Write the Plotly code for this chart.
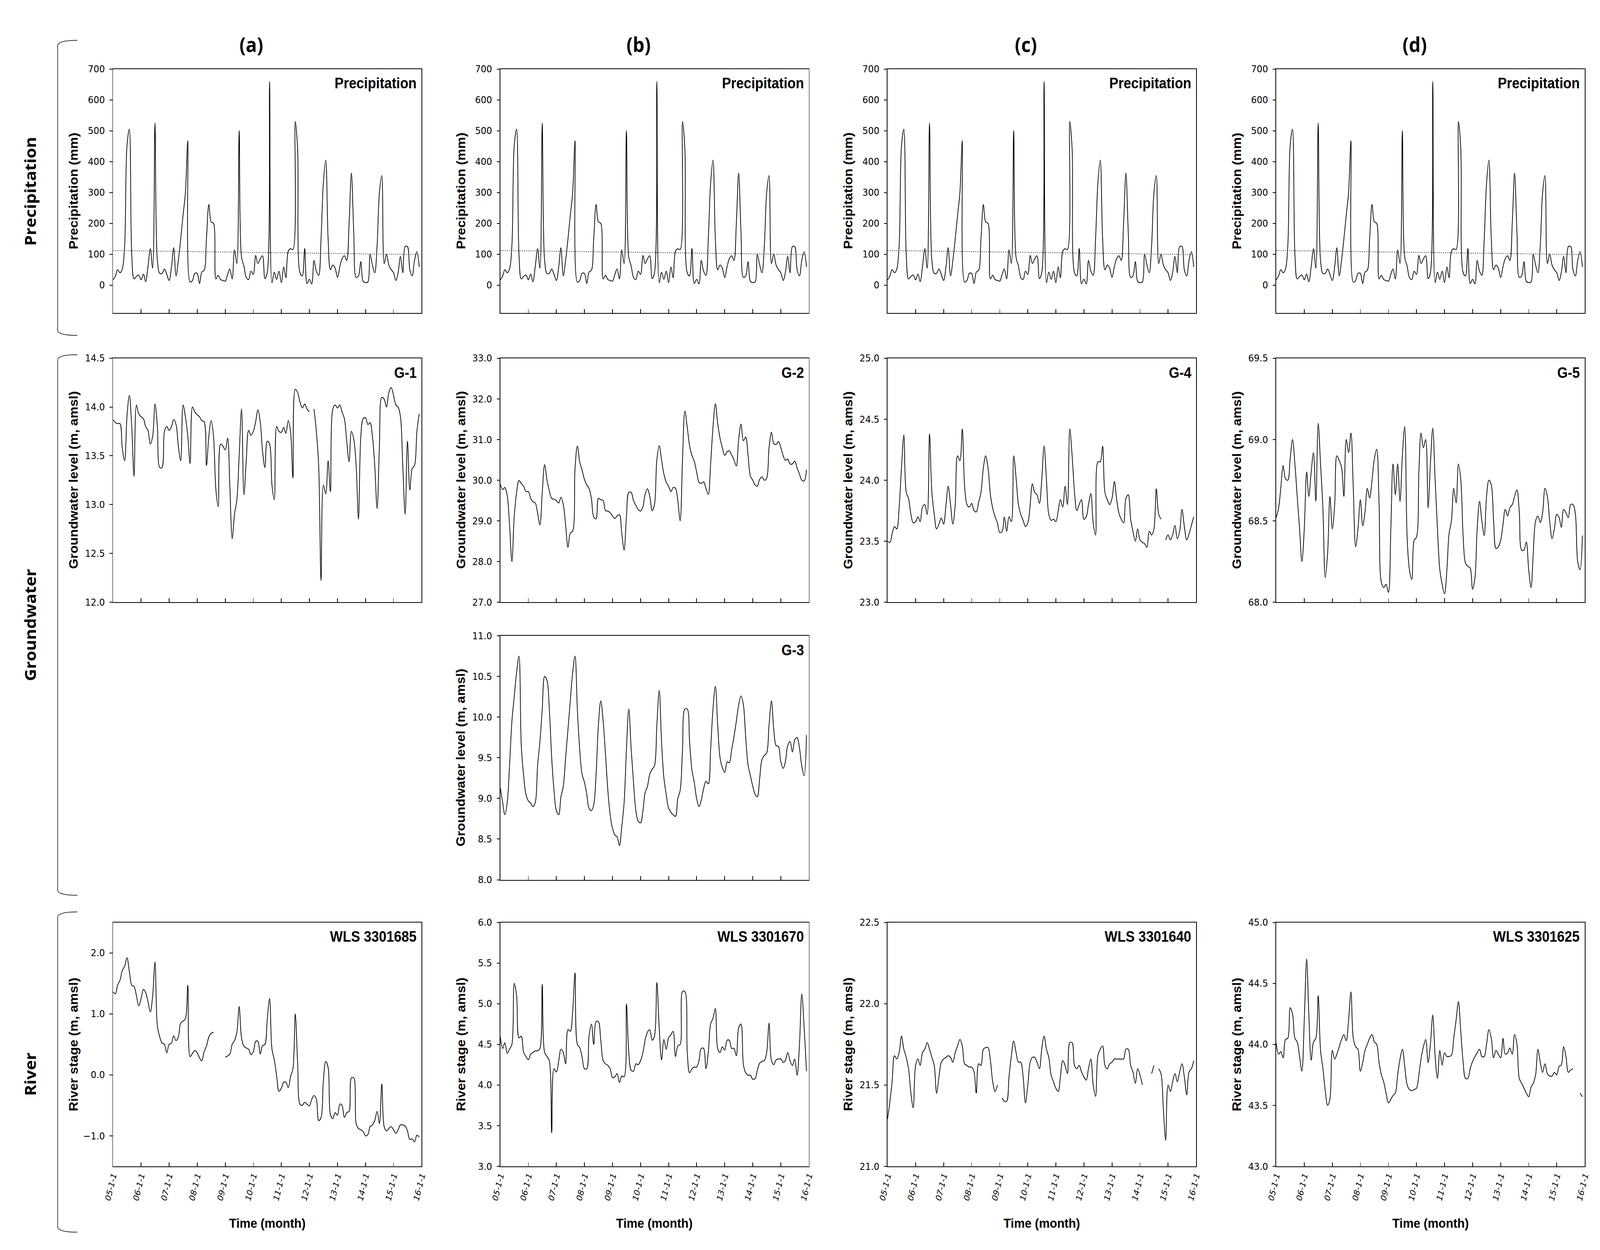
import plotly.graph_objects as go
import pandas as pd

W, H = 4490, 3199

# ---------------- data ----------------
months = pd.date_range("2005-01-01", periods=132, freq="MS")
year_ticks = pd.date_range("2005-01-01", "2016-01-01", freq="YS")
year_labels = ["05-1-1", "06-1-1", "07-1-1", "08-1-1", "09-1-1", "10-1-1",
               "11-1-1", "12-1-1", "13-1-1", "14-1-1", "15-1-1", "16-1-1"]

column_titles = ["(a)", "(b)", "(c)", "(d)"]
row_titles = ["Precipitation", "Groundwater", "River"]

precip = [17, 30, 50, 40, 52, 130, 450, 505, 100, 20, 28, 33,
          17, 36, 11, 60, 118, 55, 525, 80, 38, 38, 52, 35,
          15, 60, 121, 30, 80, 150, 225, 300, 468, 10, 15, 38,
          38, 5, 42, 48, 150, 261, 205, 200, 20, 32, 18, 15,
          13, 35, 52, 20, 114, 70, 501, 90, 62, 25, 18, 45,
          35, 96, 70, 85, 95, 21, 40, 660, 8, 42, 19, 45,
          8, 59, 24, 110, 118, 115, 530, 440, 40, 30, 119, 5,
          19, 4, 80, 45, 32, 150, 330, 405, 150, 50, 65, 55,
          25, 60, 85, 95, 80, 200, 363, 170, 25, 30, 76, 12,
          8, 10, 100, 65, 40, 130, 300, 355, 70, 100, 65, 50,
          40, 15, 40, 93, 40, 125, 125, 50, 30, 80, 108, 59]
precip_trend = [112, 99]

g1 = [13.87, 13.84, 13.83, 13.83, 13.58, 13.45, 13.90, 14.12, 13.80, 13.29, 14.02, 13.93,
      13.90, 13.88, 13.80, 13.76, 13.62, 13.70, 14.03, 13.80, 13.38, 13.38, 13.75, 13.80,
      13.76, 13.80, 13.87, 13.82, 13.60, 13.45, 14.02, 13.90, 13.70, 13.42, 14.00, 13.95,
      13.92, 13.90, 13.86, 13.85, 13.40, 13.70, 13.86, 13.70, 13.15, 12.98, 13.62, 13.60,
      13.56, 13.68, 13.20, 12.65, 12.90, 13.05, 13.50, 13.98, 13.10, 13.45, 13.76, 13.71,
      13.75, 13.85, 13.97, 13.85, 13.55, 13.38, 13.65, 13.62, 13.20, 13.05, 13.80, 13.75,
      13.74, 13.79, 13.73, 13.86, 13.75, 13.27, 14.18, 14.15, 14.05, 13.99, 14.03, 13.98,
      13.95, None, 13.98, 13.75, 13.40, 12.22, 13.20, 13.11, 13.45, 13.13, 13.98, 14.02,
      13.99, 14.02, 13.95, 13.88, 13.65, 13.44, 13.75, 13.67, 13.40, 12.85, 13.70, 13.88,
      13.89, 13.82, 13.84, 13.70, 13.40, 12.96, 13.60, 14.10, 14.08, 14.00, 14.15, 14.20,
      14.12, 14.02, 14.00, 13.90, 13.40, 12.90, 13.65, 13.15, 13.37, 13.40, 13.75, 13.93]

g2 = [29.90, 29.77, 29.82, 29.62, 28.90, 28.00, 29.10, 29.70, 29.99, 29.92, 29.85, 29.72,
      29.72, 29.55, 29.47, 29.44, 29.20, 28.90, 29.70, 30.38, 30.00, 29.74, 29.55, 29.53,
      29.50, 29.44, 29.58, 29.40, 28.90, 28.35, 28.70, 28.75, 30.30, 30.84, 30.45, 30.25,
      30.02, 29.88, 29.80, 29.55, 29.10, 29.05, 29.55, 29.52, 29.50, 29.25, 29.24, 29.20,
      29.12, 29.06, 29.12, 29.15, 28.70, 28.28, 29.10, 29.70, 29.70, 29.50, 29.38, 29.28,
      29.24, 29.35, 29.65, 29.79, 29.60, 29.25, 29.40, 30.50, 30.85, 30.50, 30.15, 29.95,
      29.85, 29.72, 29.82, 29.80, 29.50, 29.00, 30.50, 31.70, 31.30, 30.85, 30.61, 30.47,
      30.20, 29.95, 29.92, 29.96, 29.80, 29.65, 30.40, 31.30, 31.88, 31.40, 31.03, 30.80,
      30.61, 30.70, 30.72, 30.62, 30.50, 30.35, 31.00, 31.38, 30.97, 31.06, 30.60, 30.10,
      30.00, 29.88, 29.85, 30.02, 30.08, 30.00, 30.05, 30.80, 31.18, 30.90, 30.88, 30.95,
      30.80, 30.60, 30.49, 30.52, 30.40, 30.40, 30.47, 30.30, 30.15, 30.00, 29.98, 30.26]

g3 = [9.13, 8.95, 8.80, 8.95, 9.40, 9.95, 10.25, 10.55, 10.75, 9.65, 9.28, 9.05,
      8.97, 8.94, 8.90, 8.95, 9.40, 9.70, 10.10, 10.50, 10.45, 10.10, 9.50, 9.10,
      8.85, 8.80, 9.02, 9.15, 9.50, 9.85, 10.20, 10.55, 10.75, 10.10, 9.60, 9.30,
      9.20, 9.05, 8.88, 8.85, 8.92, 9.30, 9.90, 10.20, 9.95, 9.55, 9.10, 8.80,
      8.63, 8.55, 8.53, 8.42, 8.65, 8.95, 9.60, 10.10, 9.60, 9.20, 8.85, 8.72,
      8.70, 8.85, 9.07, 9.15, 9.30, 9.36, 9.40, 9.90, 10.33, 9.70, 9.25, 9.05,
      8.88, 8.83, 8.80, 8.78, 9.00, 9.10, 9.60, 10.10, 10.10, 9.70, 9.35, 9.20,
      9.00, 8.90, 8.98, 9.12, 9.21, 9.18, 9.60, 10.10, 10.38, 9.90, 9.50, 9.38,
      9.32, 9.45, 9.44, 9.60, 9.76, 9.95, 10.15, 10.26, 10.15, 9.75, 9.41, 9.28,
      9.15, 9.05, 9.02, 9.25, 9.48, 9.53, 9.56, 9.90, 10.20, 9.85, 9.65, 9.64,
      9.45, 9.37, 9.45, 9.65, 9.70, 9.57, 9.72, 9.75, 9.62, 9.40, 9.28, 9.78]

g4 = [23.50, 23.49, 23.56, 23.62, 23.60, 23.78, 24.10, 24.37, 23.90, 23.85, 23.72, 23.65,
      23.66, 23.70, 23.66, 23.78, 23.80, 23.72, 24.38, 23.90, 23.72, 23.60, 23.64, 23.69,
      23.64, 23.80, 23.95, 23.80, 23.64, 23.80, 24.20, 24.16, 24.42, 23.95, 23.80, 23.78,
      23.81, 23.75, 23.74, 23.82, 23.90, 24.10, 24.20, 24.10, 23.88, 23.77, 23.70, 23.65,
      23.57, 23.58, 23.70, 23.58, 23.70, 23.66, 24.20, 24.02, 23.80, 23.72, 23.67, 23.62,
      23.65, 23.80, 23.97, 23.90, 23.88, 23.81, 24.00, 24.28, 24.00, 23.72, 23.67, 23.68,
      23.66, 23.75, 23.84, 23.78, 23.95, 23.80, 24.42, 24.20, 23.90, 23.75, 23.80, 23.84,
      23.68, 23.70, 23.80, 23.89, 23.65, 23.55, 24.15, 24.15, 24.28, 23.90, 23.84, 23.80,
      23.85, 23.99, 23.85, 23.73, 23.68, 23.65, 23.85, 23.88, 23.68, 23.58, 23.50, 23.60,
      23.51, 23.49, 23.48, 23.45, 23.58, 23.55, 23.60, 23.93, 23.72, 23.68, None, 23.51,
      23.55, 23.51, 23.55, 23.63, 23.52, 23.58, 23.76, 23.62, 23.51, 23.56, 23.63, 23.70]

g5 = [68.52, 68.58, 68.70, 68.84, 68.76, 68.75, 68.88, 69.00, 68.85, 68.65, 68.45, 68.25,
      68.45, 68.80, 68.65, 68.80, 68.92, 68.62, 69.10, 68.85, 68.57, 68.15, 68.30, 68.65,
      68.45, 68.60, 68.90, 68.87, 68.83, 68.65, 69.00, 68.92, 69.04, 68.70, 68.34, 68.45,
      68.63, 68.47, 68.55, 68.70, 68.64, 68.75, 68.88, 68.94, 68.60, 68.12, 68.09, 68.11,
      68.06, 68.45, 68.85, 68.66, 68.85, 68.62, 68.90, 69.08, 68.40, 68.20, 68.14, 68.38,
      68.40, 68.80, 69.04, 68.95, 69.00, 68.58, 68.85, 69.07, 68.75, 68.45, 68.20, 68.11,
      68.05, 68.20, 68.42, 68.50, 68.70, 68.61, 68.85, 68.75, 68.40, 68.24, 68.22, 68.21,
      68.08, 68.15, 68.45, 68.62, 68.50, 68.41, 68.65, 68.75, 68.72, 68.50, 68.33, 68.34,
      68.38, 68.48, 68.57, 68.53, 68.58, 68.60, 68.65, 68.69, 68.55, 68.32, 68.32, 68.37,
      68.20, 68.09, 68.30, 68.50, 68.53, 68.49, 68.55, 68.70, 68.65, 68.50, 68.39, 68.45,
      68.54, 68.52, 68.46, 68.57, 68.55, 68.52, 68.60, 68.60, 68.54, 68.25, 68.20, 68.41]

wls_3301685 = [1.36, 1.33, 1.47, 1.55, 1.71, 1.78, 1.92, 1.70, 1.47, 1.45, 1.30, 1.13,
               1.25, 1.40, 1.35, 1.20, 1.03, 1.30, 1.85, 0.80, 0.62, 0.52, 0.50, 0.36,
               0.50, 0.52, 0.64, 0.56, 0.62, 0.85, 0.88, 0.92, 1.47, 0.30, 0.35, 0.40,
               0.36, 0.28, 0.23, 0.38, 0.47, 0.62, 0.68, 0.70, None, None, None, None,
               0.29, 0.31, 0.34, 0.50, 0.56, 0.70, 1.12, 0.60, 0.47, 0.44, 0.42, 0.33,
               0.38, 0.55, 0.55, 0.34, 0.48, 0.50, 0.90, 1.25, 0.42, 0.25, -0.02, -0.27,
               -0.22, -0.12, -0.12, -0.21, -0.03, 0.10, 1.00, 0.20, -0.48, -0.50, -0.45, -0.48,
               -0.51, -0.40, -0.34, -0.40, -0.75, -0.70, -0.10, 0.22, 0.12, -0.65, -0.72, -0.62,
               -0.66, -0.48, -0.50, -0.70, -0.62, -0.60, -0.05, -0.05, -0.80, -0.88, -0.90, -0.93,
               -1.00, -0.98, -0.85, -0.82, -0.75, -0.60, -0.80, -0.15, -0.85, -0.92, -0.88, -0.85,
               -0.90, -0.96, -0.90, -0.82, -0.82, -0.84, -0.92, -1.06, -1.05, -1.10, -0.99, -1.02]

wls_3301670 = [4.59, 4.45, 4.52, 4.39, 4.44, 4.50, 5.25, 5.10, 4.58, 4.60, 4.40, 4.35,
               4.31, 4.38, 4.40, 4.42, 4.42, 4.45, 5.24, 4.40, 4.35, 4.30, 3.41, 4.20,
               4.16, 4.30, 4.44, 4.40, 4.26, 4.68, 4.66, 4.90, 5.38, 4.50, 4.46, 4.35,
               4.20, 4.20, 4.60, 4.75, 4.50, 4.78, 4.78, 4.55, 4.30, 4.26, 4.24, 4.20,
               4.09, 4.10, 4.14, 4.03, 4.11, 4.10, 5.00, 4.40, 4.18, 4.17, 4.26, 4.25,
               4.30, 4.40, 4.55, 4.65, 4.68, 4.55, 4.60, 5.26, 4.70, 4.31, 4.56, 4.44,
               4.58, 4.62, 4.66, 4.35, 4.48, 4.50, 5.15, 5.15, 4.40, 4.15, 4.20, 4.22,
               4.22, 4.30, 4.45, 4.45, 4.20, 4.40, 4.75, 4.82, 4.94, 4.45, 4.40, 4.47,
               4.43, 4.55, 4.55, 4.45, 4.45, 4.36, 4.70, 4.75, 4.25, 4.15, 4.12, 4.12,
               4.07, 4.08, 4.18, 4.27, 4.29, 4.30, 4.40, 4.76, 4.30, 4.25, 4.31, 4.32,
               4.32, 4.28, 4.30, 4.40, 4.30, 4.24, 4.32, 4.12, 4.50, 5.12, 4.70, 4.17]

wls_3301640 = [21.29, 21.40, 21.52, 21.68, 21.66, 21.70, 21.80, 21.72, 21.67, 21.60, 21.45, 21.36,
               21.62, 21.66, 21.62, 21.70, 21.72, 21.76, 21.72, 21.67, 21.62, 21.45, 21.55, 21.64,
               21.66, 21.67, 21.68, 21.67, 21.64, 21.70, 21.74, 21.78, 21.74, 21.63, 21.62, 21.61,
               21.61, 21.58, 21.45, 21.63, 21.62, 21.72, 21.73, 21.73, 21.65, 21.52, 21.46, 21.50,
               None, 21.42, 21.40, 21.40, 21.55, 21.68, 21.77, 21.70, 21.64, 21.64, 21.55, 21.39,
               21.50, 21.64, 21.67, 21.67, 21.64, 21.60, 21.72, 21.80, 21.72, 21.67, 21.56, 21.52,
               21.48, 21.46, 21.55, 21.65, 21.62, 21.57, 21.76, 21.76, 21.62, 21.60, 21.62, 21.58,
               21.55, 21.53, 21.60, 21.66, 21.50, 21.43, 21.68, 21.72, 21.74, 21.62, 21.60, 21.63,
               21.64, 21.66, 21.66, 21.66, 21.66, 21.66, 21.72, 21.72, 21.62, 21.58, 21.51, 21.60,
               21.56, 21.50, None, None, None, 21.57, 21.62, None, 21.60, 21.57, 21.35, 21.16,
               21.50, 21.46, 21.52, 21.57, 21.52, 21.58, 21.63, 21.55, 21.44, 21.58, 21.60, 21.65]

wls_3301625 = [44.01, 43.92, 43.94, 43.89, 44.04, 44.05, 44.30, 44.25, 44.05, 44.02, 43.90, 43.78,
               44.20, 44.70, 44.25, 43.87, 44.02, 44.05, 44.40, 43.95, 43.80, 43.62, 43.50, 43.55,
               43.95, 43.88, 43.92, 43.98, 44.04, 44.08, 44.03, 44.20, 44.43, 44.05, 43.98, 43.96,
               43.78, 43.85, 43.95, 44.00, 44.05, 44.08, 44.02, 44.00, 43.85, 43.75, 43.69, 43.60,
               43.52, 43.55, 43.58, 43.60, 43.75, 43.88, 43.96, 43.82, 43.67, 43.63, 43.62, 43.63,
               43.64, 43.75, 43.88, 43.98, 44.04, 43.85, 44.00, 44.24, 43.90, 43.72, 43.95, 43.83,
               43.93, 43.90, 43.90, 43.91, 44.05, 44.20, 44.35, 44.10, 43.85, 43.72, 43.72, 43.80,
               43.86, 43.90, 43.93, 43.96, 43.90, 43.90, 44.00, 44.12, 44.05, 43.89, 43.95, 43.92,
               43.89, 44.05, 43.92, 43.93, 43.97, 43.92, 44.08, 44.00, 43.72, 43.68, 43.64, 43.60,
               43.57, 43.65, 43.68, 43.75, 43.96, 43.85, 43.77, 43.84, 43.76, 43.74, 43.74, 43.77,
               43.75, 43.82, 43.83, 43.98, 43.90, 43.77, 43.79, 43.80, None, None, 43.60, 43.57]

# ---------------- panel specs ----------------
P_TITLE = "Precipitation (mm)"
G_TITLE = "Groundwater level (m, amsl)"
R_TITLE = "River stage (m, amsl)"

panels = []
for c in range(4):
    panels.append(dict(col=c, row=0, y=precip, label="Precipitation", ytitle=P_TITLE,
                       yrange=[-90, 700], dtick=100, tick0=0, fmt="d", trend=True))
panels += [
    dict(col=0, row=1, y=g1, label="G-1", ytitle=G_TITLE, yrange=[12.0, 14.5], dtick=0.5, tick0=12, fmt=".1f"),
    dict(col=1, row=1, y=g2, label="G-2", ytitle=G_TITLE, yrange=[27.0, 33.0], dtick=1.0, tick0=27, fmt=".1f"),
    dict(col=2, row=1, y=g4, label="G-4", ytitle=G_TITLE, yrange=[23.0, 25.0], dtick=0.5, tick0=23, fmt=".1f"),
    dict(col=3, row=1, y=g5, label="G-5", ytitle=G_TITLE, yrange=[68.0, 69.5], dtick=0.5, tick0=68, fmt=".1f"),
    dict(col=1, row=2, y=g3, label="G-3", ytitle=G_TITLE, yrange=[8.0, 11.0], dtick=0.5, tick0=8, fmt=".1f"),
    dict(col=0, row=3, y=wls_3301685, label="WLS 3301685", ytitle=R_TITLE, yrange=[-1.5, 2.5], dtick=1.0, tick0=0, fmt=".1f"),
    dict(col=1, row=3, y=wls_3301670, label="WLS 3301670", ytitle=R_TITLE, yrange=[3.0, 6.0], dtick=0.5, tick0=3, fmt=".1f"),
    dict(col=2, row=3, y=wls_3301640, label="WLS 3301640", ytitle=R_TITLE, yrange=[21.0, 22.5], dtick=0.5, tick0=21, fmt=".1f"),
    dict(col=3, row=3, y=wls_3301625, label="WLS 3301625", ytitle=R_TITLE, yrange=[43.0, 45.0], dtick=0.5, tick0=43, fmt=".1f"),
]

# ---------------- geometry (pixels) ----------------
col_left = [293, 1390, 2487, 3588]
panel_w = 874
row_top = [164, 911, 1628, 2368]
panel_h = 630


def px(x):
    return x / W


def py(y):
    return 1 - y / H


TICK_FONT = dict(family="DejaVu Sans", size=25, color="black")
TITLE_FONT = dict(family="Liberation Sans", size=34, color="black", weight="bold")
LABEL_FONT = dict(family="Liberation Sans", size=38, color="black", weight="bold")
BIG_FONT = dict(family="Open Sans", size=52, color="black", weight="bold")
ROW_FONT = dict(family="Open Sans", size=43, color="black", weight="bold")

fig = go.Figure()
layout = dict(width=W, height=H, margin=dict(l=0, r=0, t=0, b=0), autosize=False,
              paper_bgcolor="white", plot_bgcolor="white", showlegend=False)
annotations = []
shapes = []

for i, p in enumerate(panels, start=1):
    L = col_left[p["col"]]
    T = row_top[p["row"]]
    xa = "x" if i == 1 else f"x{i}"
    ya = "y" if i == 1 else f"y{i}"
    bottom = p["row"] == 3
    fig.add_trace(go.Scatter(x=months, y=p["y"], mode="lines", xaxis=xa, yaxis=ya,
                             line=dict(color="black", width=2, shape="spline", smoothing=1.0),
                             connectgaps=False, hoverinfo="skip"))
    if p.get("trend"):
        fig.add_trace(go.Scatter(x=[months[0], months[-1]], y=precip_trend, mode="lines",
                                 xaxis=xa, yaxis=ya,
                                 line=dict(color="#555555", width=2, dash="dot"),
                                 hoverinfo="skip"))
    layout["xaxis" if i == 1 else f"xaxis{i}"] = dict(
        domain=[px(L), px(L + panel_w)], anchor=ya, type="date",
        range=["2005-01-01", "2016-01-01"],
        tickmode="array", tickvals=list(year_ticks), ticktext=year_labels,
        showticklabels=bottom, tickangle=-75,
        tickfont=dict(family="DejaVu Sans", size=22, color="black", style="italic"),
        ticks="inside", ticklen=10, tickwidth=2, tickcolor="black",
        showline=True, linecolor="black", linewidth=2, mirror=True,
        showgrid=False, zeroline=False, fixedrange=True)
    layout["yaxis" if i == 1 else f"yaxis{i}"] = dict(
        domain=[py(T + panel_h), py(T)], anchor=xa,
        range=p["yrange"], tickmode="linear", tick0=p["tick0"], dtick=p["dtick"],
        tickformat=p["fmt"], tickfont=TICK_FONT, ticklabelstandoff=8,
        ticks="outside", ticklen=8, tickwidth=2, tickcolor="black",
        showline=True, linecolor="black", linewidth=2, mirror=True,
        showgrid=False, zeroline=False, fixedrange=True)
    annotations.append(dict(text=p["label"], xref="paper", yref="paper",
                            x=px(L + panel_w - 12), y=py(T + 14),
                            xanchor="right", yanchor="top", showarrow=False, font=LABEL_FONT))
    annotations.append(dict(text=p["ytitle"], xref="paper", yref="paper",
                            x=px(L - 112), y=py(T + panel_h / 2), textangle=-90,
                            xanchor="center", yanchor="middle", showarrow=False, font=TITLE_FONT))
    if bottom:
        annotations.append(dict(text="Time (month)", xref="paper", yref="paper",
                                x=px(L + panel_w / 2), y=py(3145),
                                xanchor="center", yanchor="middle", showarrow=False, font=TITLE_FONT))

for c, t in enumerate(column_titles):
    annotations.append(dict(text=t, xref="paper", yref="paper",
                            x=px(col_left[c] + panel_w / 2 - 45), y=py(99),
                            xanchor="center", yanchor="middle", showarrow=False, font=BIG_FONT))

row_centers = [480, 1600, 2760]
bracket_spans = [(90, 852), (902, 2298), (2341, 3168)]
for t, yc in zip(row_titles, row_centers):
    annotations.append(dict(text=t, xref="paper", yref="paper", x=px(58), y=py(yc),
                            textangle=-90, xanchor="center", yanchor="middle",
                            showarrow=False, font=ROW_FONT))

for top, bot in bracket_spans:
    x1, x2 = px(136), px(192)
    yt, yb = py(top), py(bot)
    d = 14 / H
    path = (f"M {x2},{yt} Q {x1},{yt} {x1},{yt - d} "
            f"L {x1},{yb + d} Q {x1},{yb} {x2},{yb}")
    shapes.append(dict(type="path", path=path, xref="paper", yref="paper",
                       line=dict(color="#333333", width=2)))

layout["annotations"] = annotations
layout["shapes"] = shapes
fig.update_layout(**layout)

# Map the 4490x3199 figure onto the whole browser viewport (edge to edge),
# so the photographed window shows exactly the figure with no blank bands.
fit_script = """
(function(){
  var html = document.documentElement, body = document.body;
  html.style.margin = '0'; html.style.padding = '0'; html.style.overflow = 'hidden';
  body.style.margin = '0'; body.style.padding = '0'; body.style.overflow = 'hidden';
  var gd = document.getElementById('{plot_id}');
  var wrap = gd.parentElement;
  function fit(){
    var vw = window.innerWidth, vh = window.innerHeight;
    var sx = vw / 4490, sy = vh / 3199;
    gd.style.transformOrigin = '0 0';
    gd.style.transform = 'scale(' + sx + ',' + sy + ')';
    var w = vw + 'px', h = vh + 'px';
    wrap.style.width = w; wrap.style.height = h; wrap.style.overflow = 'hidden';
    body.style.width = w; body.style.height = h;
    html.style.width = w; html.style.height = h;
  }
  fit();
  window.addEventListener('resize', fit);
})();
"""
fig.write_html("out.html", post_script=fit_script, config={"displayModeBar": False})
